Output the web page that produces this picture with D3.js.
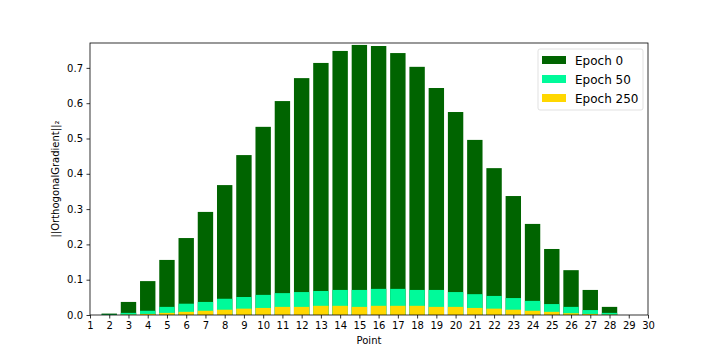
<!DOCTYPE html>
<html>
<head>
<meta charset="UTF-8" />
<script src="https://d3js.org/d3.v7.min.js"></script>
<style>
  body { margin: 0; background: #fff; }
  svg { font-family: "DejaVu Sans", sans-serif; }
  .tick text { font-size: 10px; fill: #000; }
</style>
</head>
<body>
<svg width="720" height="360"></svg>
<script>
const points = d3.range(2, 29);
const epoch0 = [0.004, 0.037, 0.096, 0.156, 0.218, 0.292, 0.368, 0.453, 0.533, 0.606, 0.671, 0.714, 0.748, 0.765,
  0.762, 0.742, 0.703, 0.643, 0.575, 0.496, 0.416, 0.337, 0.258, 0.187, 0.127, 0.071, 0.023];
const epoch50 = [0.001, 0.006, 0.012, 0.023, 0.032, 0.037, 0.046, 0.051, 0.057, 0.062, 0.065, 0.068, 0.071, 0.071,
  0.074, 0.074, 0.071, 0.071, 0.065, 0.059, 0.054, 0.048, 0.040, 0.031, 0.023, 0.014, 0.006];
const epoch250 = [0.0, 0.001, 0.003, 0.006, 0.009, 0.012, 0.015, 0.018, 0.020, 0.023, 0.023, 0.026, 0.026, 0.023,
  0.026, 0.026, 0.026, 0.023, 0.023, 0.020, 0.018, 0.015, 0.012, 0.009, 0.005, 0.003, 0.001];
const seriesNames = ["Epoch 0", "Epoch 50", "Epoch 250"];
const seriesColors = ["#006400", "#00fa9a", "#ffd700"];
const xTicks = d3.range(1, 31);
const yTicks = [0, 0.1, 0.2, 0.3, 0.4, 0.5, 0.6, 0.7];

const mLeft = 90, mRight = 648, mTop = 43, mBottom = 315;
const svg = d3.select("svg");

const x = d3.scaleLinear().domain([1, 30]).range([mLeft, mRight]);
const y = d3.scaleLinear().domain([0, 0.7705]).range([mBottom, mTop]);
const bw = x(1.8) - x(1);

const series = [epoch0, epoch50, epoch250];
series.forEach((vals, i) => {
  svg.append("g").selectAll("rect")
    .data(points)
    .enter().append("rect")
    .attr("x", (d) => x(d) - bw / 2)
    .attr("width", bw)
    .attr("y", (d, j) => y(vals[j]))
    .attr("height", (d, j) => mBottom - y(vals[j]))
    .attr("fill", seriesColors[i]);
});

const xAxis = svg.append("g")
  .attr("transform", `translate(0,${mBottom})`)
  .call(d3.axisBottom(x).tickValues(xTicks).tickFormat(d3.format("d")).tickSize(3.5).tickPadding(3.5));
const yAxis = svg.append("g")
  .attr("transform", `translate(${mLeft},0)`)
  .call(d3.axisLeft(y).tickValues(yTicks).tickFormat(d3.format(".1f")).tickSize(3.5).tickPadding(3.5));
[xAxis, yAxis].forEach(a => {
  a.select(".domain").remove();
  a.selectAll(".tick line").attr("stroke", "#000").attr("stroke-width", 0.8);
  a.selectAll(".tick text").attr("font-family", "DejaVu Sans");
});

svg.append("rect")
  .attr("x", mLeft).attr("y", mTop)
  .attr("width", mRight - mLeft).attr("height", mBottom - mTop)
  .attr("fill", "none").attr("stroke", "#000").attr("stroke-width", 0.8);

svg.append("text")
  .attr("x", (mLeft + mRight) / 2).attr("y", 344)
  .attr("text-anchor", "middle").attr("font-size", 10)
  .text("Point");

svg.append("text")
  .attr("transform", `translate(59,${(mTop + mBottom) / 2}) rotate(-90)`)
  .attr("text-anchor", "middle").attr("font-size", 10)
  .text("||OrthogonalGradient||₂");

// legend
const lg = svg.append("g").attr("transform", "translate(538,49)");
lg.append("rect")
  .attr("width", 105).attr("height", 61).attr("rx", 2)
  .attr("fill", "#fff").attr("fill-opacity", 0.8)
  .attr("stroke", "#d9d9d9").attr("stroke-width", 0.8);
seriesNames.forEach((name, i) => {
  const ry = 11 + i * 19;
  lg.append("rect")
    .attr("x", 4).attr("y", ry - 4)
    .attr("width", 24).attr("height", 8)
    .attr("fill", seriesColors[i]);
  lg.append("text")
    .attr("x", 37).attr("y", ry + 4.5)
    .attr("font-size", 12)
    .text(name);
});
</script>
</body>
</html>
